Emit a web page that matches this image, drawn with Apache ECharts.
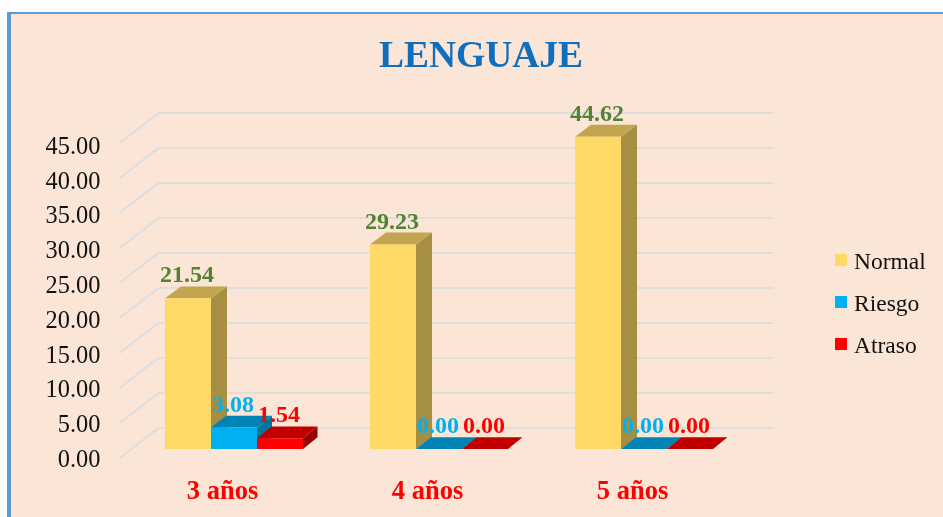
<!DOCTYPE html>
<html>
<head>
<meta charset="utf-8">
<title>LENGUAJE</title>
<script src="https://cdn.jsdelivr.net/npm/echarts@6/dist/echarts.min.js"></script>
<style>
  html, body { margin: 0; padding: 0; background: #fff; }
  .frame {
    position: absolute; left: 7px; top: 12px; right: 0; bottom: 0;
    background: #fbe5d7;
    border-left: 4px solid #5b9bd5;
    border-top: 2px solid #5b9bd5;
  }
  #chart { position: absolute; left: 0; top: 0; width: 943px; height: 517px; }
</style>
</head>
<body>
<div class="frame"></div>
<div id="chart"></div>
<script>
const categories = ['3 años', '4 años', '5 años']
const normal = [21.54, 29.23, 44.62]
const riesgo = [3.08, 0.00, 0.00]
const atraso = [1.54, 0.00, 0.00]
const yTicks = [0, 5, 10, 15, 20, 25, 30, 35, 40, 45]

const FONT = '"Liberation Serif", "Times New Roman", serif'
// bars stand part way into the floor, walls are further back
const BAR_DY = -11.8
const FRONT_DX = -12, FRONT_DY = 9
const BACK_DX = 27, BACK_DY = -21
const BAR_W = 46

const chart = echarts.init(document.getElementById('chart'), null, { renderer: 'canvas' })

function gridLines(params, api) {
  const p = api.coord([0, api.value(0)])
  const cs = params.coordSys
  const y = p[1]
  const line = (pts, color) => ({
    type: 'polyline',
    shape: { points: pts },
    style: { stroke: color, lineWidth: 2, fill: null }
  })
  return {
    type: 'group',
    children: [
      line([[cs.x + FRONT_DX, y + FRONT_DY], [cs.x + BACK_DX, y + BACK_DY]], '#d9dee3'),
      line([[cs.x + BACK_DX, y + BACK_DY], [cs.x + cs.width + BACK_DX, y + BACK_DY]], '#e0dedb')
    ]
  }
}

function bar3d(slot, dx, front, side, top, labelColor) {
  return function (params, api) {
    const base = api.coord([api.value(0), 0])
    const head = api.coord([api.value(0), api.value(1)])
    const x0 = base[0] + (slot - 1.5) * BAR_W
    const x1 = x0 + BAR_W
    const y0 = base[1]
    const y1 = head[1]
    const poly = (pts, color) => ({
      type: 'polygon',
      shape: { points: pts },
      style: { fill: color }
    })
    return {
      type: 'group',
      children: [
        poly([[x1, y0], [x1 + dx, y0 + BAR_DY], [x1 + dx, y1 + BAR_DY], [x1, y1]], side),
        poly([[x0, y1], [x1, y1], [x1 + dx, y1 + BAR_DY], [x0 + dx, y1 + BAR_DY]], top),
        poly([[x0, y0], [x1, y0], [x1, y1], [x0, y1]], front),
        {
          type: 'text',
          z2: 10,
          style: {
            x: (x0 + x1) / 2 - 1,
            y: y1 - 22,
            text: api.value(1).toFixed(2),
            fill: labelColor,
            font: 'bold 24px ' + FONT,
            align: 'center',
            verticalAlign: 'middle'
          }
        }
      ]
    }
  }
}

function barSeries(name, values, slot, dx, front, side, top, labelColor) {
  return {
    name: name,
    type: 'custom',
    xAxisIndex: 1,
    yAxisIndex: 1,
    renderItem: bar3d(slot, dx, front, side, top, labelColor),
    encode: { x: 0, y: 1 },
    itemStyle: { color: front },
    data: values.map((v, i) => [i, v]),
    z: 3 + slot
  }
}

chart.setOption({
  animation: false,
  backgroundColor: 'transparent',
  title: {
    text: 'LENGUAJE',
    left: 476,
    top: 33,
    textAlign: 'center',
    textStyle: { color: '#0f6fbc', fontFamily: FONT, fontWeight: 'bold', fontSize: 37.5 }
  },
  legend: {
    orient: 'vertical',
    left: 830,
    top: 240,
    itemWidth: 12,
    itemHeight: 12,
    itemGap: 12,
    icon: 'rect',
    data: ['Normal', 'Riesgo', 'Atraso'],
    formatter: name => '{a|' + name + '}',
    textStyle: {
      rich: {
        a: { color: '#111', fontFamily: FONT, fontSize: 23.5, lineHeight: 24, padding: [6, 0, 0, 2] }
      }
    }
  },
  grid: [
    { left: 120, width: 615, top: 147.5, height: 313 },  // holds the tick labels, they sit low in the reference
    { left: 131.5, width: 615, top: 134, height: 315 }   // plane the bars stand on
  ],
  xAxis: [
    {
      type: 'category', gridIndex: 0, data: categories,
      axisLine: { show: false }, axisTick: { show: false }, splitLine: { show: false },
      axisLabel: { color: '#ff0000', fontFamily: FONT, fontWeight: 'bold', fontSize: 26.5, margin: 18.5 }
    },
    {
      type: 'category', gridIndex: 1, data: categories,
      axisLine: { show: false }, axisTick: { show: false }, axisLabel: { show: false }
    }
  ],
  yAxis: [
    {
      type: 'value', gridIndex: 0, min: 0, max: 45, interval: 5,
      axisLine: { show: false }, axisTick: { show: false }, splitLine: { show: false },
      axisLabel: {
        color: '#111', fontFamily: FONT, fontSize: 24.4, margin: 19.5,
        formatter: v => v.toFixed(2)
      }
    },
    {
      type: 'value', gridIndex: 1, min: 0, max: 45, interval: 5,
      axisLine: { show: false }, axisTick: { show: false }, axisLabel: { show: false },
      splitLine: { show: false }
    }
  ],
  series: [
    {
      type: 'custom',
      name: 'grid',
      xAxisIndex: 1,
      yAxisIndex: 1,
      renderItem: gridLines,
      encode: { y: 0 },
      data: yTicks.map(v => [v]),
      silent: true,
      z: 1
    },
    barSeries('Normal', normal, 0, 16, '#ffd966', '#a68f42', '#c2a64f', '#548235'),
    barSeries('Riesgo', riesgo, 1, 15, '#00b0f0', '#00759f', '#0084b5', '#00b0f0'),
    barSeries('Atraso', atraso, 2, 14.5, '#ff0000', '#990000', '#c00000', '#ff0000')
  ]
})
</script>
</body>
</html>
